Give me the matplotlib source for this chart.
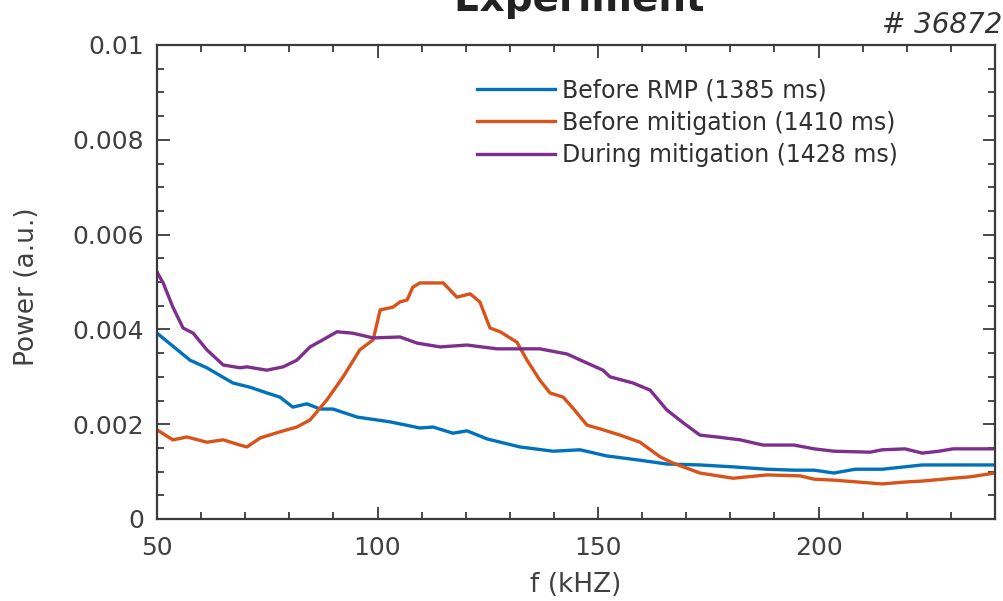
import matplotlib
matplotlib.use('Agg')
from matplotlib import pyplot as plt
from matplotlib.ticker import MultipleLocator

# spectres (f en kHz, puissance en u.a.)
f_before_rmp = [50, 57.5, 61.3, 67.2, 71.1, 74.9, 77.9, 80.8, 84.0, 87.0, 89.9, 95.4,
                102.8, 109.6, 112.6, 117.1, 120.3, 124.8, 132.3, 139.8, 145.9, 152.0,
                159.5, 165.6, 173.1, 180.6, 188.3, 194.4, 199.0, 203.5, 208.3, 214.4,
                223.5, 230.5, 240]
p_before_rmp = [0.00392, 0.00335, 0.00319, 0.00287, 0.00278, 0.00266, 0.00257, 0.00236,
                0.00243, 0.00232, 0.00232, 0.00215, 0.00205, 0.00192, 0.00194, 0.00181,
                0.00186, 0.00169, 0.00152, 0.00143, 0.00146, 0.00133, 0.00124, 0.00116,
                0.00114, 0.00110, 0.00105, 0.00103, 0.00103, 0.00097, 0.00105, 0.00105,
                0.00114, 0.00114, 0.00114]

f_before_mit = [50, 53.6, 56.8, 61.3, 65.0, 68.8, 70.4, 73.4, 77.9, 81.7, 84.7, 88.5,
                92.2, 96.0, 99.0, 100.6, 103.5, 105.1, 106.7, 108.0, 109.6, 114.9, 118.0,
                121.0, 123.2, 125.5, 127.8, 131.6, 133.9, 136.8, 139.1, 142.1, 144.3,
                147.5, 150.5, 155.0, 159.5, 164.1, 167.0, 173.1, 180.6, 188.3, 195.8,
                199.0, 203.5, 214.4, 219.6, 223.5, 230.5, 234.4, 240]
p_before_mit = [0.00188, 0.00167, 0.00173, 0.00162, 0.00167, 0.00156, 0.00152, 0.00171,
                0.00184, 0.00194, 0.00209, 0.00251, 0.00300, 0.00357, 0.00378, 0.00441,
                0.00447, 0.00458, 0.00462, 0.00489, 0.00498, 0.00498, 0.00468, 0.00475,
                0.00458, 0.00403, 0.00395, 0.00373, 0.00335, 0.00293, 0.00266, 0.00257,
                0.00234, 0.00198, 0.00190, 0.00177, 0.00162, 0.00131, 0.00118, 0.00097,
                0.00086, 0.00093, 0.00091, 0.00084, 0.00082, 0.00074, 0.00078, 0.00080,
                0.00086, 0.00089, 0.00097]

f_during_mit = [50, 51.4, 53.6, 55.9, 58.2, 61.3, 65.0, 68.8, 70.4, 74.9, 78.6, 81.7,
                84.7, 87.6, 90.8, 94.4, 99.0, 105.1, 109.0, 114.2, 120.3, 127.1, 136.8,
                143.0, 147.5, 151.1, 152.7, 157.9, 161.8, 165.6, 169.3, 173.1, 177.0,
                182.2, 187.4, 194.4, 199.0, 203.5, 211.7, 214.4, 219.6, 223.5, 227.3,
                230.5, 240]
p_during_mit = [0.00521, 0.00498, 0.00447, 0.00403, 0.00392, 0.00357, 0.00325, 0.00319,
                0.00321, 0.00314, 0.00321, 0.00335, 0.00363, 0.00378, 0.00395, 0.00392,
                0.00382, 0.00384, 0.00371, 0.00363, 0.00367, 0.00359, 0.00359, 0.00348,
                0.00329, 0.00314, 0.00300, 0.00287, 0.00272, 0.00230, 0.00203, 0.00177,
                0.00173, 0.00167, 0.00156, 0.00156, 0.00148, 0.00143, 0.00141, 0.00146,
                0.00148, 0.00139, 0.00143, 0.00148, 0.00148]

labels = ['Before RMP (1385 ms)', 'Before mitigation (1410 ms)', 'During mitigation (1428 ms)']
colors = ['#0072BD', '#D95319', '#7E2F8E']

plt.rcParams['font.family'] = ['DejaVu Sans']
axis_grey = '#3a3a3a'

fig = plt.figure(figsize=(10.04, 6.01), dpi=100)
ax = fig.add_axes([157 / 1004, 1 - 519 / 601, 838 / 1004, 474 / 601])

for f, p, lab, c in zip([f_before_rmp, f_before_mit, f_during_mit],
                        [p_before_rmp, p_before_mit, p_during_mit], labels, colors):
    ax.plot(f, p, color=c, lw=2.4, label=lab)

ax.set_xlim(50, 240)
ax.set_ylim(0, 0.01)
ax.xaxis.set_major_locator(MultipleLocator(50))
ax.xaxis.set_minor_locator(MultipleLocator(10))
ax.yaxis.set_minor_locator(MultipleLocator(0.0005))
ax.set_yticks([0, 0.002, 0.004, 0.006, 0.008, 0.01])
ax.set_yticklabels(['0', '0.002', '0.004', '0.006', '0.008', '0.01'])

ax.tick_params(which='both', direction='in', top=True, right=True, colors=axis_grey,
               width=1.3, labelsize=18, labelcolor='#404040')
ax.tick_params(which='major', length=9)
ax.tick_params(which='minor', length=5)
ax.tick_params(axis='x', pad=12)
ax.tick_params(axis='y', pad=9)
for sp in ax.spines.values():
    sp.set_color(axis_grey)
    sp.set_linewidth(1.6)

ax.set_xlabel('f (kHZ)', fontsize=19, color='#404040')
ax.xaxis.set_label_coords(0.5, -0.112)
ax.set_ylabel('Power (a.u.)', fontsize=19, color='#404040')
ax.yaxis.set_label_coords(-0.14, 0.49)

ax.legend(loc='upper left', bbox_to_anchor=(0.382, 0.93), frameon=False,
          fontsize=17, handlelength=3.3, handletextpad=0.3, labelspacing=0.36,
          borderpad=0, borderaxespad=0, labelcolor='#303030')

# titre coupé en haut, comme sur l'original
fig.text(0.577, 1 - 11 / 601, 'Experiment', ha='center', va='baseline',
         fontsize=28, fontweight='bold', color='#222222')
fig.text(0.998, 1 - 33 / 601, '# 36872', ha='right', va='baseline',
         fontsize=20, style='italic', color='#333333')

fig.savefig('out.png', dpi=100)
